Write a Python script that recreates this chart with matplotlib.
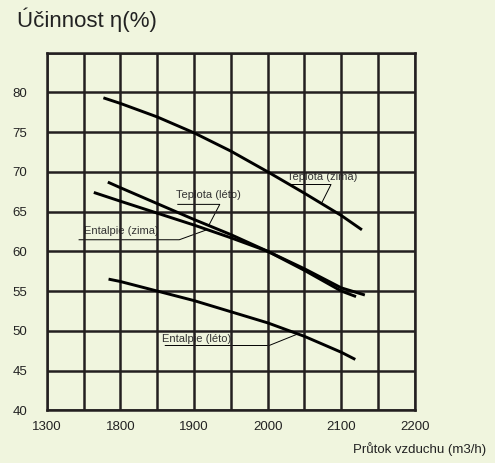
import numpy as np
import matplotlib
matplotlib.use("Agg")
import matplotlib.pyplot as plt

plt.rcParams['font.family'] = ['Liberation Sans', 'DejaVu Sans']

# airflow (m3/h) vs. efficiency (%) for the four curves
teplota_zima_x = [1777, 1800, 1850, 1900, 1950, 2000, 2050, 2100, 2128]
teplota_zima_y = [79.3, 78.6, 76.9, 74.9, 72.6, 70.0, 67.3, 64.5, 62.7]

teplota_leto_x = [1783, 1800, 1850, 1900, 1950, 2000, 2050, 2100, 2120]
teplota_leto_y = [68.7, 68.0, 66.0, 64.0, 62.1, 60.0, 57.6, 55.0, 54.3]

entalpie_zima_x = [1764, 1800, 1850, 1900, 1950, 2000, 2050, 2100, 2132]
entalpie_zima_y = [67.4, 66.3, 64.8, 63.3, 61.7, 60.0, 57.8, 55.4, 54.5]

entalpie_leto_x = [1784, 1800, 1850, 1900, 1950, 2000, 2050, 2100, 2119]
entalpie_leto_y = [56.5, 56.2, 55.0, 53.8, 52.4, 51.0, 49.3, 47.3, 46.4]

x_tick_pos = [1700, 1800, 1900, 2000, 2100, 2200]
x_tick_labels = ['1300', '1800', '1900', '2000', '2100', '2200']
y_ticks = [40, 45, 50, 55, 60, 65, 70, 75, 80]

BG = '#f0f5de'
GRID = '#231f20'

fig = plt.figure(figsize=(4.95, 4.63), dpi=100, facecolor=BG)
ax = fig.add_axes([0.0943, 0.1138, 0.744, 0.7728], facecolor=BG)

curves = [
    (teplota_zima_x, teplota_zima_y),
    (teplota_leto_x, teplota_leto_y),
    (entalpie_zima_x, entalpie_zima_y),
    (entalpie_leto_x, entalpie_leto_y),
]
for cx, cy in curves:
    ax.plot(cx, cy, color='black', lw=2.1, solid_capstyle='butt',
            solid_joinstyle='round', zorder=4)

# labels: text position, underline span, x where the leader meets the curve
labels = [
    ('Teplota (zima)', 2026, 69.3, 2031, 2086, 68.4, 2073, 0),
    ('Teplota (léto)', 1876, 67.1, 1878, 1935, 65.9, 1920, 1),
    ('Entalpie (zima)', 1750, 62.5, 1744, 1880, 61.45, 1918, 2),
    ('Entalpie (léto)', 1856, 49.0, 1861, 2002, 48.15, 2041, 3),
]
for text, tx, ty, ux0, ux1, uy, cxp, idx in labels:
    ax.text(tx, ty, text, fontsize=8, color='#333333', va='center', ha='left', zorder=1)
    cx, cy = curves[idx]
    yc = np.interp(cxp, cx, cy)
    ax.plot([ux0, ux1, cxp], [uy, uy, yc], color='black', lw=0.7, zorder=1)

ax.set_xlim(1700, 2200)
ax.set_ylim(40, 85)
ax.set_xticks(x_tick_pos)
ax.set_xticklabels(x_tick_labels)
ax.set_xticks(np.arange(1750, 2200, 100), minor=True)
ax.set_yticks(y_ticks)
ax.set_yticks([85], minor=True)
ax.tick_params(which='both', length=0)
ax.tick_params(axis='x', pad=8, labelsize=9.5, labelcolor='#222222')
ax.tick_params(axis='y', pad=14, labelsize=9.5, labelcolor='#222222')
ax.grid(which='both', color=GRID, lw=1.8)
ax.set_axisbelow(False)
for s in ax.spines.values():
    s.set_color(GRID)
    s.set_linewidth(1.8)

fig.text(0.034, 0.957, 'Účinnost η(%)', fontsize=16, color='#222222', va='center', ha='left')
fig.text(0.982, 0.015, 'Průtok vzduchu (m3/h)', fontsize=9.5, color='#222222', va='bottom', ha='right')

fig.savefig('out.png', dpi=100, facecolor=BG)
